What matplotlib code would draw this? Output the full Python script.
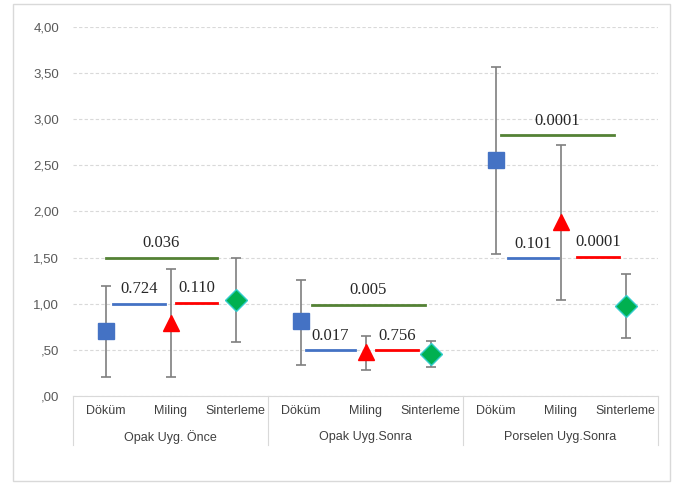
import matplotlib.pyplot as plt
from matplotlib.patches import Rectangle
from matplotlib.lines import Line2D

# veriler
groups = ['Opak Uyg. Önce', 'Opak Uyg.Sonra', 'Porselen Uyg.Sonra']
methods = ['Döküm', 'Miling', 'Sinterleme']

means = {
    'Döküm': [0.70, 0.81, 2.56],
    'Miling': [0.79, 0.48, 1.88],
    'Sinterleme': [1.04, 0.45, 0.97],
}
lows = {
    'Döküm': [0.20, 0.33, 1.54],
    'Miling': [0.20, 0.28, 1.04],
    'Sinterleme': [0.58, 0.31, 0.63],
}
highs = {
    'Döküm': [1.19, 1.26, 3.56],
    'Miling': [1.38, 0.65, 2.72],
    'Sinterleme': [1.50, 0.60, 1.32],
}

# p degerleri ve cizgi seviyeleri (her grup icin)
dm_levels = [1.00, 0.50, 1.49]
dm_labels = ['0.724', '0.017', '0.101']
ms_levels = [1.01, 0.50, 1.51]
ms_labels = ['0.110', '0.756', '0.0001']
ds_levels = [1.50, 0.99, 2.83]
ds_labels = ['0.036', '0.005', '0.0001']

fig = plt.figure(figsize=(6.77, 4.87), dpi=100)
ax = fig.add_axes([0.108, 0.187, 0.864, 0.758])

styles = {
    'Döküm': dict(marker='s', color='#4472C4', ms=11, mec='#4472C4'),
    'Miling': dict(marker='^', color='#FF0000', ms=12, mec='#FF0000'),
    'Sinterleme': dict(marker='D', color='#00B050', ms=11, mec='#33CCCC'),
}

for j, m in enumerate(methods):
    xs = [g * 3 + j for g in range(3)]
    err_lo = [means[m][i] - lows[m][i] for i in range(3)]
    err_hi = [highs[m][i] - means[m][i] for i in range(3)]
    ax.errorbar(xs, means[m], yerr=[err_lo, err_hi], fmt='none',
                ecolor='#7F7F7F', elinewidth=1.2, capsize=3.5, capthick=1.2, zorder=2)
    st = styles[m]
    ax.plot(xs, means[m], linestyle='none', marker=st['marker'], color=st['color'],
            markersize=st['ms'], markeredgecolor=st['mec'], markeredgewidth=1, zorder=3)

# anlamlilik cizgilerinin yatay araliklari
dm_spans = [(0.12, 0.92), (0.08, 0.84), (0.19, 0.96)]
ms_spans = [(1.08, 1.72), (1.16, 1.81), (1.25, 1.90)]
ds_spans = [(0.0, 1.72), (0.18, 1.91), (0.08, 1.82)]

tfont = dict(family='Liberation Serif', fontsize=12, color='#262626')


def pline(g, span, level, label, color):
    off = g * 3
    a, b = span
    ax.plot([off + a, off + b], [level, level], color=color, lw=2, zorder=1)
    ax.annotate(label, (off + (a + b) / 2, level), xytext=(0, 4.5),
                textcoords='offset points', ha='center', va='bottom', **tfont)


for g in range(3):
    pline(g, dm_spans[g], dm_levels[g], dm_labels[g], '#4472C4')
    pline(g, ms_spans[g], ms_levels[g], ms_labels[g], '#FF0000')
    pline(g, ds_spans[g], ds_levels[g], ds_labels[g], '#548235')

ax.set_xlim(-0.5, 8.5)
ax.set_ylim(0, 4)
yt = [0, 0.5, 1, 1.5, 2, 2.5, 3, 3.5, 4]
ax.set_yticks(yt)
ax.set_yticklabels([',00', ',50', '1,00', '1,50', '2,00', '2,50', '3,00', '3,50', '4,00'],
                   family='Liberation Sans', fontsize=9.5, color='#595959')
ax.tick_params(axis='y', length=0, pad=10)
ax.set_xticks([])
for s in ['top', 'right', 'left']:
    ax.spines[s].set_visible(False)
ax.spines['bottom'].set_color('#D9D9D9')
ax.grid(axis='y', color='#D9D9D9', linestyle=(0, (3, 2)), linewidth=0.8)
ax.set_axisbelow(True)

# kategori etiketleri
nfont = dict(family='Liberation Sans', fontsize=9, color='#404040')
for g in range(3):
    for j, m in enumerate(methods):
        ax.text(g * 3 + j, -0.16, m, ha='center', va='center', **nfont)
    ax.text(g * 3 + 1, -0.45, groups[g], ha='center', va='center', **nfont)
for x in [-0.5, 2.5, 5.5, 8.5]:
    ax.add_line(Line2D([x, x], [0, -0.53], color='#D9D9D9', lw=0.8, clip_on=False))

# dis cerceve
fig.patches.append(Rectangle((13 / 677, 0.012), 657 / 677, 0.98, transform=fig.transFigure,
                             fill=False, edgecolor='#D9D9D9', lw=1))

fig.savefig('out.png', dpi=100)
